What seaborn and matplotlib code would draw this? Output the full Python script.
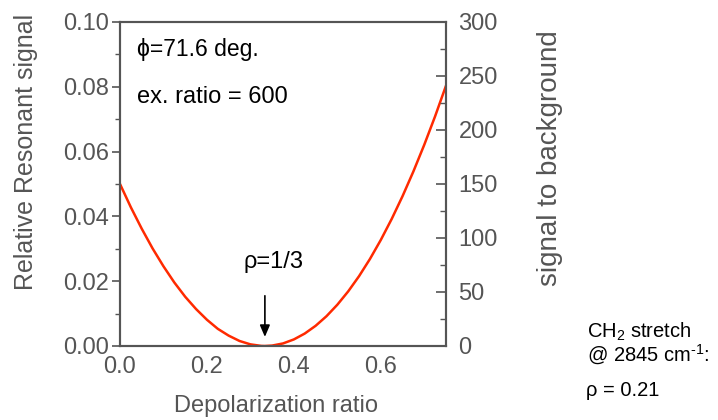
import numpy as np
import pandas as pd
import matplotlib
matplotlib.use("Agg")
import matplotlib.pyplot as plt
from matplotlib.ticker import MultipleLocator
import seaborn as sns

# Data
depol_ratio = [0.0, 0.025, 0.05, 0.075, 0.1, 0.125, 0.15, 0.175, 0.2, 0.225,
               0.25, 0.275, 0.3, 0.325, 0.3333, 0.35, 0.375, 0.4, 0.425, 0.45,
               0.475, 0.5, 0.525, 0.55, 0.575, 0.6, 0.625, 0.65, 0.675, 0.7,
               0.725, 0.75]
rel_signal = [0.0500, 0.0428, 0.0362, 0.0301, 0.0246, 0.0196, 0.0152, 0.0114,
              0.0081, 0.0053, 0.0032, 0.00155, 0.00051, 0.00003, 0.0, 0.00013,
              0.00079, 0.00203, 0.00384, 0.00623, 0.00919, 0.01274, 0.01686,
              0.02156, 0.02685, 0.03273, 0.03919, 0.04624, 0.05388, 0.06211,
              0.07092, 0.08035]
left_ticks = [0.00, 0.02, 0.04, 0.06, 0.08, 0.10]
right_ticks = [0, 50, 100, 150, 200, 250, 300]
x_ticks = [0.0, 0.2, 0.4, 0.6]

sns.set_style("white")
plt.rcParams['font.family'] = ['Liberation Sans', 'DejaVu Sans']
plt.rcParams['mathtext.fontset'] = 'custom'
plt.rcParams['mathtext.rm'] = 'Liberation Sans'
plt.rcParams['mathtext.it'] = 'Liberation Sans'

GRAY = '#555555'

fig = plt.figure(figsize=(7.18, 4.20), dpi=100)
ax = fig.add_axes([120/718, 1-346/420, 326/718, 324/420])

df = pd.DataFrame({'x': depol_ratio, 'y': rel_signal})
sns.lineplot(data=df, x='x', y='y', ax=ax, color='#ff2a00', linewidth=1.8)

ax.set_xlim(0, 0.75)
ax.set_ylim(0, 0.10)
ax.set_xticks(x_ticks)
ax.set_xticklabels([f"{v:.1f}" for v in x_ticks])
ax.set_yticks(left_ticks)
ax.set_yticklabels([f"{v:.2f}" for v in left_ticks])
ax.xaxis.set_minor_locator(MultipleLocator(0.1))
ax.yaxis.set_minor_locator(MultipleLocator(0.01))

for s in ax.spines.values():
    s.set_color(GRAY)
    s.set_linewidth(1.5)

ax.tick_params(axis='y', which='major', direction='out', length=6, width=1.2,
               color=GRAY, labelcolor=GRAY, labelsize=17, pad=2)
ax.tick_params(axis='y', which='minor', direction='out', length=3.5, width=1.0,
               color=GRAY)
ax.tick_params(axis='x', which='major', direction='in', length=6, width=1.2,
               color=GRAY, labelcolor=GRAY, labelsize=17, pad=7)
ax.tick_params(axis='x', which='minor', direction='in', length=4, width=1.0,
               color=GRAY)

ax.set_xlabel('Depolarization ratio', fontsize=17, color=GRAY, va='center')
ax.xaxis.set_label_coords(0.479, -0.185)
ax.set_ylabel('Relative Resonant signal', fontsize=18, color=GRAY, va='center')
ax.yaxis.set_label_coords(-0.288, 0.60)

ax2 = ax.twinx()
ax2.set_ylim(0, 300)
ax2.set_yticks(right_ticks)
ax2.set_yticklabels([str(v) for v in right_ticks])
ax2.yaxis.set_minor_locator(MultipleLocator(25))
for s in ax2.spines.values():
    s.set_color(GRAY)
    s.set_linewidth(1.5)
ax2.tick_params(axis='y', which='major', direction='in', length=7, width=1.2,
                color=GRAY, labelcolor=GRAY, labelsize=17, pad=9)
ax2.tick_params(axis='y', which='minor', direction='in', length=4, width=1.0,
                color=GRAY)
ax2.set_ylabel('signal to background', fontsize=20, color=GRAY, va='center')
ax2.yaxis.set_label_coords(1.319, 0.58)

ax.text(0.04, 0.0915, 'ϕ=71.6 deg.', fontsize=16.5, color='black', va='center')
ax.text(0.04, 0.077, 'ex. ratio = 600', fontsize=17, color='black', va='center')
ax.text(0.352, 0.0259, 'ρ=1/3', fontsize=17, color='black', ha='center', va='center')
ax.annotate('', xy=(1/3, 0.0028), xytext=(1/3, 0.0155),
            arrowprops=dict(arrowstyle='-|>,head_length=0.7,head_width=0.3',
                            color='black', lw=1.2, shrinkA=0, shrinkB=0))

fig.text(587/718, 1-332/420, 'CH$_2$ stretch', fontsize=14.5, color='black', va='center')
fig.text(587/718, 1-355/420, r'@ 2845 cm$^{\text{-}1}$:', fontsize=14.5, color='black', va='center')
fig.text(586/718, 1-390/420, 'ρ = 0.21', fontsize=14.5, color='black', va='center')

fig.savefig('out.png', dpi=100)
